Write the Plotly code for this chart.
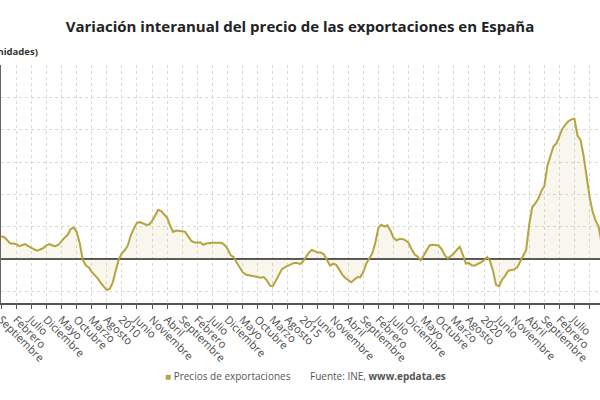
import pandas as pd
import plotly.graph_objects as go

# Monthly year-on-year change of Spanish export prices, from September 2006
start_month = "2006-09-01"
export_price_yoy = [
    3.5, 3.4, 2.9, 2.4, 2.4, 2.3, 2.0, 2.1, 2.3, 2.0,
    1.7, 1.5, 1.3, 1.5, 1.7, 2.1, 2.3, 2.1, 2.0, 2.2,
    2.8, 3.3, 3.7, 4.6, 4.9, 4.2, 2.5, -0.1, -1.0, -1.3,
    -2.0, -2.5, -3.0, -3.7, -4.2, -4.8, -4.6, -3.6, -1.7, 0.0,
    0.9, 1.4, 2.1, 3.7, 4.7, 5.6, 5.7, 5.5, 5.3, 5.3,
    5.9, 6.7, 7.6, 7.4, 7.0, 6.4, 5.2, 4.2, 4.4, 4.4,
    4.3, 4.2, 3.4, 2.8, 2.6, 2.5, 2.6,
    2.2, 2.4, 2.5, 2.5, 2.5, 2.5, 2.5, 2.2, 1.6, 0.6,
    0.3, -0.5, -1.3, -2.0, -2.4, -2.5, -2.6, -2.8, -2.9, -2.9,
    -2.8, -3.3, -4.1, -4.2, -3.4, -2.5, -1.6, -1.3, -1.1, -0.9,
    -0.6, -0.6, -0.8, -0.4, 0.4, 1.0, 1.4, 1.2, 1.0, 1.0,
    0.7, -0.2, -1.0, -0.7, -0.9, -1.6, -2.4, -2.9, -3.3, -3.6,
    -3.2, -2.8, -2.8, -2.0, -0.7, 0.2, 0.9, 2.6, 4.9, 5.3,
    5.0, 5.2, 4.4, 3.3, 2.9, 3.1,
    3.1, 2.9, 2.5, 1.5, 0.7, 0.4, -0.2, 0.5, 1.3, 2.1,
    2.2, 2.2, 2.1, 1.5, 0.6, 0.1, 0.4, 0.8, 1.4, 1.9,
    0.7, -0.7, -0.6, -1.0, -1.0, -0.8, -0.5, -0.2, 0.3, -0.3,
    -1.8, -4.0, -4.2, -3.2, -2.6, -1.8, -1.7, -1.6, -1.3, -0.4,
    0.7, 1.4, 5.3, 8.0, 8.6, 9.3, 10.5, 11.3, 14.4, 15.9,
    17.4, 17.9, 19.0, 20.1, 20.8, 21.3, 21.6, 21.7, 19.1, 18.4,
    16.0, 12.5, 9.6, 7.3, 5.9, 5.1, 2.5,
]
months = pd.date_range(start_month, periods=len(export_price_yoy), freq="MS")

tick_labels = [
    "Septiembre", "Febrero", "Julio", "Diciembre", "Mayo", "Octubre", "Marzo", "Agosto",
    "2010", "Junio", "Noviembre", "Abril", "Septiembre", "Febrero", "Julio", "Diciembre",
    "Mayo", "Octubre", "Marzo", "Agosto", "2015", "Junio", "Noviembre", "Abril",
    "Septiembre", "Febrero", "Julio", "Diciembre", "Mayo", "Octubre", "Marzo", "Agosto",
    "2020", "Junio", "Noviembre", "Abril", "Septiembre", "Febrero", "Julio", "",
]
tick_dates = pd.date_range(start_month, periods=len(tick_labels), freq="5MS")

series_name = "Precios de exportaciones"
line_color = "#b5a43f"

fig = go.Figure()
fig.add_trace(go.Scatter(
    x=months, y=export_price_yoy, name=series_name, mode="lines",
    line=dict(color=line_color, width=2),
    fill="tozeroy", fillcolor="rgba(200,180,110,0.12)",
    showlegend=False,
))

fig.update_layout(
    width=600, height=400,
    margin=dict(l=1, r=0, t=65, b=97),
    paper_bgcolor="white", plot_bgcolor="white",
    font=dict(family="Open Sans", color="#555"),
    title=dict(
        text="<b>Variación interanual del precio de las exportaciones en España</b>",
        x=0.5, xanchor="center", y=0.933, yanchor="middle",
        font=dict(family="Open Sans", size=15, color="#222"),
    ),
    xaxis=dict(
        type="date",
        range=["2006-08-30", "2023-03-16"],
        tickmode="array", tickvals=tick_dates, ticktext=tick_labels,
        tickangle=45, tickfont=dict(size=11, color="#4a4a4a"),
        ticklabeloverflow="allow",
        ticks="outside", ticklen=4, tickcolor="#555",
        showgrid=True, gridcolor="#d9d9d9", griddash="dot", gridwidth=1,
        showline=True, linecolor="#555", linewidth=2,
        automargin=False,
    ),
    yaxis=dict(
        range=[-6.8, 30], dtick=5, tick0=0,
        showticklabels=False,
        showgrid=True, gridcolor="#d9d9d9", griddash="dot", gridwidth=1,
        zeroline=True, zerolinecolor="#555", zerolinewidth=2,
        showline=True, linecolor="#666", linewidth=1,
        automargin=False,
    ),
    annotations=[
        dict(text="<b>(unidades)</b>", xref="paper", yref="paper",
             x=-15 / 599, y=1.0 + 13 / 238, xanchor="left", yanchor="middle",
             showarrow=False, font=dict(size=9.5, color="#333")),
        dict(text=f"<span style='color:{line_color}'>■</span> {series_name}",
             xref="paper", yref="paper", x=(163 - 1) / 599, y=-(376 - 303) / 238,
             xanchor="left", yanchor="middle", showarrow=False,
             font=dict(size=10, color="#555")),
        dict(text="Fuente: INE, <b>www.epdata.es</b>",
             xref="paper", yref="paper", x=(308 - 1) / 599, y=-(376 - 303) / 238,
             xanchor="left", yanchor="middle", showarrow=False,
             font=dict(size=10, color="#555")),
    ],
)

fig.write_html("out.html", config={"displayModeBar": False},
               post_script="document.body.style.margin='0';")
